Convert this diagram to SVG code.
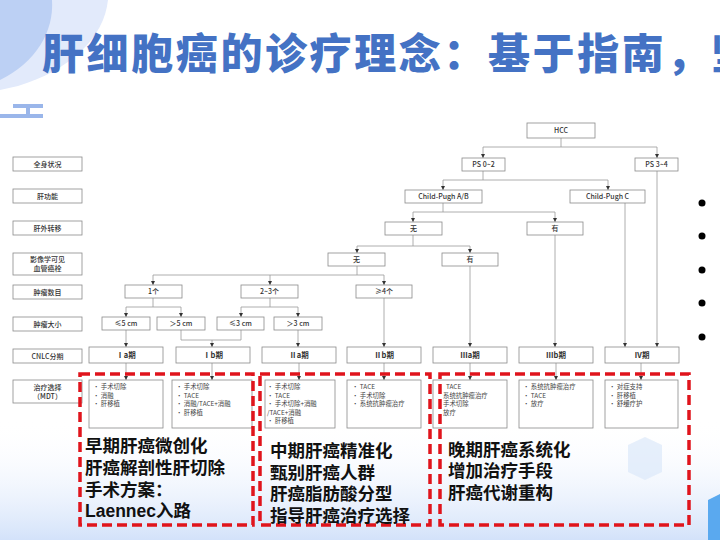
<svg xmlns="http://www.w3.org/2000/svg" width="720" height="540" viewBox="0 0 720 540">
<defs>
<linearGradient id="bg" x1="0" y1="0" x2="0" y2="1">
<stop offset="0" stop-color="#ffffff" stop-opacity="0"/>
<stop offset="1" stop-color="#d3e2fa"/>
</linearGradient>
<marker id="ar" viewBox="0 0 6 6" refX="6" refY="3" markerWidth="4.5" markerHeight="4.5" orient="auto" markerUnits="userSpaceOnUse">
<path d="M0,0 L6,3 L0,6 Z" fill="#333"/>
</marker>
<style>
.bx{fill:#fff;stroke:#8a8a8a;stroke-width:0.8}
.t{font-family:"Noto Sans CJK SC",sans-serif;font-size:7px;fill:#333;text-anchor:middle;font-weight:500}
.st{font-family:"Noto Sans CJK SC",sans-serif;font-size:7.5px;fill:#333;text-anchor:middle;font-weight:bold}
.tr{font-family:"Noto Sans CJK SC",sans-serif;font-size:6.4px;fill:#444}
.ln{fill:none;stroke:#999;stroke-width:0.8}
.la{fill:none;stroke:#999;stroke-width:0.8;marker-end:url(#ar)}
.red{fill:none;stroke:#e0141c;stroke-width:3.5;stroke-dasharray:10 5}
.big{font-family:"Liberation Sans","Noto Sans CJK SC",sans-serif;font-size:17.5px;fill:#111;font-weight:bold}
</style>
</defs>
<rect width="720" height="540" fill="#fff"/>
<g id="background">
<path d="M0,0 H108 C104,38 70,70 18,86 L0,90 Z" fill="#e2eafb"/>
<path d="M0,0 H52 C54,32 36,62 0,80 Z" fill="#bcd0f4"/>
<rect x="13" y="104" width="30" height="4" fill="#9ab6ea"/>
<rect x="26" y="108" width="4" height="7" fill="#9ab6ea"/>
<rect x="0" y="114" width="43" height="4" fill="#9ab6ea"/>
<rect x="0" y="420" width="720" height="120" fill="url(#bg)"/>
<path d="M628,445 L645,437 L662,445 L662,472 L645,480 L628,472 Z" fill="#dbe8f9" opacity="0.7"/>
<path d="M708,500 L720,494 L720,540 L708,540 Z" fill="#5aa9ef"/>
</g>
<g id="title">
<text x="42" y="69" font-family="Noto Sans CJK SC,sans-serif" font-size="42" font-weight="900" fill="#4472c4" letter-spacing="2.6">肝细胞癌的诊疗理念：基于指南，坚</text>
</g>
<g id="row-labels">
<rect class="bx" x="13" y="157" width="69" height="14"/><text class="t" x="47.5" y="166.5">全身状况</text>
<rect class="bx" x="13" y="189" width="69" height="14"/><text class="t" x="47.5" y="198.5">肝功能</text>
<rect class="bx" x="13" y="221" width="69" height="14"/><text class="t" x="47.5" y="230.5">肝外转移</text>
<rect class="bx" x="13" y="253" width="69" height="22"/><text class="t" x="47.5" y="262">影像学可见</text><text class="t" x="47.5" y="271">血管癌栓</text>
<rect class="bx" x="13" y="285" width="69" height="14"/><text class="t" x="47.5" y="294.5">肿瘤数目</text>
<rect class="bx" x="13" y="317" width="69" height="14"/><text class="t" x="47.5" y="326.5">肿瘤大小</text>
<rect class="bx" x="13" y="349" width="69" height="14"/><text class="t" x="47.5" y="358.5">CNLC分期</text>
<rect class="bx" x="13" y="380" width="69" height="23"/><text class="t" x="47.5" y="390">治疗选择</text><text class="t" x="47.5" y="399">（MDT）</text>
</g>
<g id="connectors">
<path class="la" d="M561,138 V147 H483 V158"/>
<path class="la" d="M561,147 H657 V158"/>
<path class="la" d="M483,171 V180 H443 V190"/>
<path class="la" d="M483,180 H608 V190"/>
<path class="la" d="M443,203 V212 H413 V222"/>
<path class="la" d="M443,212 H555 V222"/>
<path class="la" d="M413,235 V246 H357 V253"/>
<path class="la" d="M413,246 H470 V253"/>
<path class="la" d="M555,235 V347"/>
<path class="la" d="M625,203 V347"/>
<path class="la" d="M657,171 V347"/>
<path class="la" d="M357,266 V275 H153 V285"/>
<path class="la" d="M357,275 H384 V285"/>
<path class="la" d="M270,275 V285"/>
<path class="la" d="M470,266 V347"/>
<path class="la" d="M153,298 V307 H126 V317"/>
<path class="la" d="M153,307 H181 V317"/>
<path class="la" d="M270,298 V307 H241 V317"/>
<path class="la" d="M270,307 H298 V317"/>
<path class="la" d="M384,298 V347"/>
<path class="la" d="M126,330 V347"/>
<path class="ln" d="M181,330 V340 H241 V330"/>
<path class="la" d="M212,340 V347"/>
<path class="la" d="M298,330 V347"/>
<path class="la" d="M126,363 V380"/>
<path class="la" d="M212,363 V380"/>
<path class="la" d="M299,363 V380"/>
<path class="la" d="M384,363 V380"/>
<path class="la" d="M470,363 V380"/>
<path class="la" d="M556,363 V380"/>
<path class="la" d="M641,363 V380"/>
</g>
<g id="n-hcc"><rect class="bx" x="527" y="123" width="68" height="15"/><text class="t" x="561" y="133">HCC</text></g>
<g id="n-ps02"><rect class="bx" x="462" y="158" width="43" height="13"/><text class="t" x="483.5" y="167">PS 0~2</text></g>
<g id="n-ps34"><rect class="bx" x="635" y="158" width="43" height="13"/><text class="t" x="656.5" y="167">PS 3~4</text></g>
<g id="n-cpab"><rect class="bx" x="405" y="190" width="77" height="13"/><text class="t" x="443.5" y="199">Child-Pugh A/B</text></g>
<g id="n-cpc"><rect class="bx" x="570" y="190" width="75" height="13"/><text class="t" x="607.5" y="199">Child-Pugh C</text></g>
<g id="n-ehs-no"><rect class="bx" x="385" y="222" width="57" height="13"/><text class="t" x="413.5" y="231">无</text></g>
<g id="n-ehs-yes"><rect class="bx" x="527" y="222" width="56" height="13"/><text class="t" x="555" y="231">有</text></g>
<g id="n-mvi-no"><rect class="bx" x="328" y="253" width="57" height="13"/><text class="t" x="356.5" y="262">无</text></g>
<g id="n-mvi-yes"><rect class="bx" x="442" y="253" width="56" height="13"/><text class="t" x="470" y="262">有</text></g>
<g id="n-n1"><rect class="bx" x="125" y="285" width="57" height="13"/><text class="t" x="153.5" y="294">1个</text></g>
<g id="n-n23"><rect class="bx" x="241" y="285" width="57" height="13"/><text class="t" x="269.5" y="294">2~3个</text></g>
<g id="n-n4"><rect class="bx" x="356" y="285" width="56" height="13"/><text class="t" x="384" y="294">≥4个</text></g>
<g id="n-le5"><rect class="bx" x="102" y="317" width="48" height="13"/><text class="t" x="126" y="326">≤5 cm</text></g>
<g id="n-gt5"><rect class="bx" x="157" y="317" width="48" height="13"/><text class="t" x="181" y="326">＞5 cm</text></g>
<g id="n-le3"><rect class="bx" x="217" y="317" width="47" height="13"/><text class="t" x="240.5" y="326">≤3 cm</text></g>
<g id="n-gt3"><rect class="bx" x="274" y="317" width="48" height="13"/><text class="t" x="298" y="326">＞3 cm</text></g>
<g id="n-ia"><rect class="bx" x="89" y="347" width="74" height="16"/><text class="st" x="126" y="358">Ⅰa期</text></g>
<g id="n-ib"><rect class="bx" x="176" y="347" width="74" height="16"/><text class="st" x="213" y="358">Ⅰb期</text></g>
<g id="n-iia"><rect class="bx" x="262" y="347" width="74" height="16"/><text class="st" x="299" y="358">Ⅱa期</text></g>
<g id="n-iib"><rect class="bx" x="347" y="347" width="74" height="16"/><text class="st" x="384" y="358">Ⅱb期</text></g>
<g id="n-iiia"><rect class="bx" x="433" y="347" width="74" height="16"/><text class="st" x="470" y="358">Ⅲa期</text></g>
<g id="n-iiib"><rect class="bx" x="519" y="347" width="74" height="16"/><text class="st" x="556" y="358">Ⅲb期</text></g>
<g id="n-iv"><rect class="bx" x="605" y="347" width="74" height="16"/><text class="st" x="642" y="358">Ⅳ期</text></g>
<g id="tx-ia"><rect class="bx" x="89" y="380" width="74" height="48"/>
<text class="tr" x="93" y="389">· 手术切除</text><text class="tr" x="93" y="397.5">· 消融</text><text class="tr" x="93" y="406">· 肝移植</text></g>
<g id="tx-ib"><rect class="bx" x="172" y="380" width="80" height="48"/>
<text class="tr" x="176" y="389">· 手术切除</text><text class="tr" x="176" y="397.5">· TACE</text><text class="tr" x="176" y="406">· 消融/TACE+消融</text><text class="tr" x="176" y="414.5">· 肝移植</text></g>
<g id="tx-iia"><rect class="bx" x="265" y="380" width="70" height="48"/>
<text class="tr" x="267" y="389">· 手术切除</text><text class="tr" x="267" y="397.5">· TACE</text><text class="tr" x="267" y="406">· 手术切除+消融</text><text class="tr" x="267" y="414.5">  /TACE+消融</text><text class="tr" x="267" y="423">· 肝移植</text></g>
<g id="tx-iib"><rect class="bx" x="347" y="380" width="74" height="48"/>
<text class="tr" x="352" y="389">·  TACE</text><text class="tr" x="352" y="397.5">· 手术切除</text><text class="tr" x="352" y="406">· 系统抗肿瘤治疗</text></g>
<g id="tx-iiia"><rect class="bx" x="433" y="380" width="74" height="48"/>
<text class="tr" x="446" y="389">TACE</text><text class="tr" x="443" y="397.5">系统抗肿瘤治疗</text><text class="tr" x="443" y="406">手术切除</text><text class="tr" x="443" y="414.5">放疗</text></g>
<g id="tx-iiib"><rect class="bx" x="519" y="380" width="74" height="48"/>
<text class="tr" x="523" y="389">· 系统抗肿瘤治疗</text><text class="tr" x="523" y="397.5">· TACE</text><text class="tr" x="523" y="406">· 放疗</text></g>
<g id="tx-iv"><rect class="bx" x="605" y="380" width="73" height="48"/>
<text class="tr" x="609" y="389">· 对症支持</text><text class="tr" x="609" y="397.5">· 肝移植</text><text class="tr" x="609" y="406">· 舒缓疗护</text></g>
<g id="group-early">
<rect class="red" x="80" y="374" width="173" height="151"/>
<text class="big" x="85" y="452">早期肝癌微创化</text>
<text class="big" x="85" y="474">肝癌解剖性肝切除</text>
<text class="big" x="85" y="496">手术方案：</text>
<text class="big" x="85" y="517" font-weight="normal">Laennec入路</text>
</g>
<g id="group-mid">
<rect class="red" x="260" y="374" width="170" height="151"/>
<text class="big" x="270" y="457">中期肝癌精准化</text>
<text class="big" x="270" y="479">甄别肝癌人群</text>
<text class="big" x="270" y="500">肝癌脂肪酸分型</text>
<text class="big" x="270" y="522">指导肝癌治疗选择</text>
</g>
<g id="group-late">
<rect class="red" x="440" y="374" width="249" height="151"/>
<text class="big" x="448" y="456">晚期肝癌系统化</text>
<text class="big" x="448" y="477">增加治疗手段</text>
<text class="big" x="448" y="499">肝癌代谢重构</text>
</g>
<g id="bullets" fill="#000">
<circle cx="702" cy="203" r="3.5"/>
<circle cx="702" cy="236" r="3.5"/>
<circle cx="702" cy="270" r="3.5"/>
<circle cx="702" cy="303" r="3.5"/>
<circle cx="702" cy="337" r="3.5"/>
</g>
</svg>
